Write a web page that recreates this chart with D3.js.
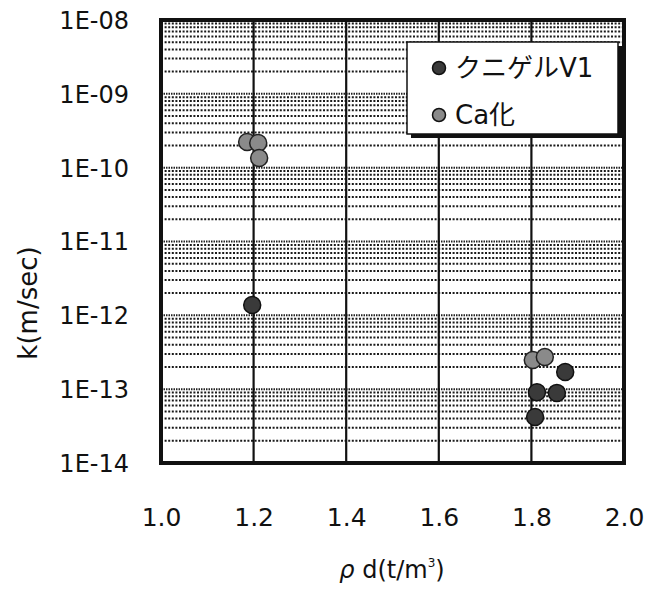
<!DOCTYPE html>
<html><head><meta charset="utf-8">
<script src="https://cdn.jsdelivr.net/npm/d3@7"></script>
<style>body{margin:0;background:#fff}svg{display:block}text{font-family:"DejaVu Sans","Noto Sans CJK JP",sans-serif;fill:#111}</style>
</head><body>
<svg id="c" width="646" height="589"></svg>
<script>
// Data
const seriesNames = ["クニゲルV1", "Ca化"];
const kunigelX = [1.197, 1.812, 1.855, 1.808, 1.873];
const kunigelK = [1.38e-12, 9.1e-14, 8.9e-14, 4.2e-14, 1.71e-13];
const caX = [1.186, 1.21, 1.212, 1.803, 1.829];
const caK = [2.23e-10, 2.16e-10, 1.35e-10, 2.48e-13, 2.72e-13];
const xTicks = [1.0, 1.2, 1.4, 1.6, 1.8, 2.0];
const yTicks = [1e-8, 1e-9, 1e-10, 1e-11, 1e-12, 1e-13, 1e-14];
const yTickLabels = ["1E-08", "1E-09", "1E-10", "1E-11", "1E-12", "1E-13", "1E-14"];

const svg = d3.select("#c");
const L = 161, R = 624, T = 20, B = 463;
const x = d3.scaleLinear().domain([1.0, 2.0]).range([L, R]);
const y = d3.scaleLog().domain([1e-14, 1e-8]).range([B, T]);

// minor grid (dotted)
const minor = [];
for (let e = -14; e < -8; e++) for (let m = 2; m <= 9; m++) minor.push(m * Math.pow(10, e));
svg.append("g").selectAll("line").data(minor).join("line")
  .attr("x1", L).attr("x2", R).attr("y1", d => y(d)).attr("y2", d => y(d))
  .attr("stroke", "#1a1a1a").attr("stroke-width", 2).attr("stroke-dasharray", "2,1.6");
// major grid
svg.append("g").selectAll("line").data(yTicks).join("line")
  .attr("x1", L).attr("x2", R).attr("y1", d => y(d)).attr("y2", d => y(d))
  .attr("stroke", "#222").attr("stroke-width", 2).attr("stroke-dasharray", "1.5,1");
// vertical grid
svg.append("g").selectAll("line").data(xTicks.slice(1, -1)).join("line")
  .attr("x1", d => x(d)).attr("x2", d => x(d)).attr("y1", T).attr("y2", B)
  .attr("stroke", "#111").attr("stroke-width", 2.2);

// frame
svg.append("rect").attr("x", L).attr("y", T).attr("width", R - L).attr("height", B - T)
  .attr("fill", "none").attr("stroke", "#111").attr("stroke-width", 4);

// axes labels via d3 axes
const yAxis = svg.append("g").attr("transform", `translate(${L - 32},0)`)
  .call(d3.axisLeft(y).tickValues(yTicks).tickFormat((d, i) => yTickLabels[i]).tickSize(0));
yAxis.select(".domain").remove();
yAxis.selectAll("text").attr("font-size", 24).attr("dy", "0.35em").attr("x", 0);

const xAxis = svg.append("g").attr("transform", `translate(0,${B})`)
  .call(d3.axisBottom(x).tickValues(xTicks).tickFormat(d3.format(".1f")).tickSize(0));
xAxis.select(".domain").remove();
xAxis.selectAll("text").attr("font-size", 25).attr("y", 63).attr("dy", "0");

svg.append("text").attr("transform", "translate(37,303) rotate(-90)")
  .attr("text-anchor", "middle").attr("font-size", 26).text("k(m/sec)");
const xt = svg.append("text").attr("x", 392).attr("y", 578).attr("text-anchor", "middle").attr("font-size", 24);
xt.append("tspan").attr("font-style", "italic").text("ρ");
xt.append("tspan").text(" d(t/m");
xt.append("tspan").attr("font-size", 12).attr("dy", -11).text("3");
xt.append("tspan").attr("dy", 11).text(")");

// points
const colK = "#3a3a3a", colC = "#8a8a8a";
svg.append("g").selectAll("circle").data(caX.map((v, i) => [v, caK[i]])).join("circle")
  .attr("cx", d => x(d[0])).attr("cy", d => y(d[1])).attr("r", 8.5)
  .attr("fill", colC).attr("stroke", "#222").attr("stroke-width", 1.5);
svg.append("g").selectAll("circle").data(kunigelX.map((v, i) => [v, kunigelK[i]])).join("circle")
  .attr("cx", d => x(d[0])).attr("cy", d => y(d[1])).attr("r", 8.5)
  .attr("fill", colK).attr("stroke", "#111").attr("stroke-width", 1.5);

// legend
const lg = svg.append("g");
lg.append("rect").attr("x", 411).attr("y", 46).attr("width", 211).attr("height", 92).attr("fill", "#111");
lg.append("rect").attr("x", 407).attr("y", 42).attr("width", 211).attr("height", 92)
  .attr("fill", "#fff").attr("stroke", "#111").attr("stroke-width", 1.5);
const cols = [colK, colC];
seriesNames.forEach((n, i) => {
  const yy = 68 + i * 47;
  lg.append("circle").attr("cx", 439).attr("cy", yy).attr("r", 6.5).attr("fill", cols[i]).attr("stroke", "#111").attr("stroke-width", 1.5);
  lg.append("text").attr("x", 455).attr("y", yy).attr("dy", "0.36em").attr("font-size", 26).text(n);
});
</script>
</body></html>
